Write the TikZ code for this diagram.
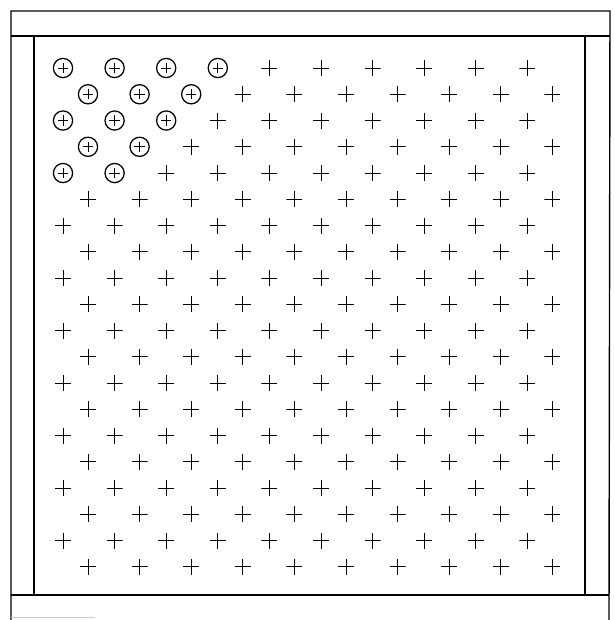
\documentclass[tikz,border=0pt]{standalone}
\usepackage{tikz}

\tikzset{
  site/.style={inner sep=0pt,minimum size=.4cm,
    path picture={\draw[line width=.7pt]
      (path picture bounding box.west)--(path picture bounding box.east)
      (path picture bounding box.north)--(path picture bounding box.south);}},
  ring/.style={circle,draw,line width=.9pt,fill=white,inner sep=0pt,minimum size=.48cm,
    path picture={\draw[line width=.7pt]
      ([xshift=-.13cm]path picture bounding box.center)--([xshift=.13cm]path picture bounding box.center)
      ([yshift=-.13cm]path picture bounding box.center)--([yshift=.13cm]path picture bounding box.center);}},
  wall/.style={line width=1pt}
}

\begin{document}
\begin{tikzpicture}[x=.025cm,y=-.025cm]
\useasboundingbox (0,0) rectangle (614,620);
% frame
\draw[wall] (11,620)--(11,11)--(610,11)--(609,620);
\draw[wall] (11,36)--(610,36) (11,595)--(609,595);
\draw[wall] (34,36)--(34,595) (585,36)--(585,595);
\draw[gray!40,line width=.6pt] (11,617)--(95,617);
% lattice
\foreach \r in {0,...,19}{
  \pgfmathsetmacro\xo{mod(\r,2)==0 ? 63 : 88}
  \foreach \c in {0,...,9}
    \node[site] (s\r-\c) at ({\xo+51.6*\c},{68+26.26*\r}) {};
}
% ringed sites
\foreach \r/\c in {0/0,0/1,0/2,0/3,1/0,1/1,1/2,2/0,2/1,2/2,3/0,3/1,4/0,4/1}
  \node[ring] (o\r-\c) at (s\r-\c) {};
\end{tikzpicture}
\end{document}
